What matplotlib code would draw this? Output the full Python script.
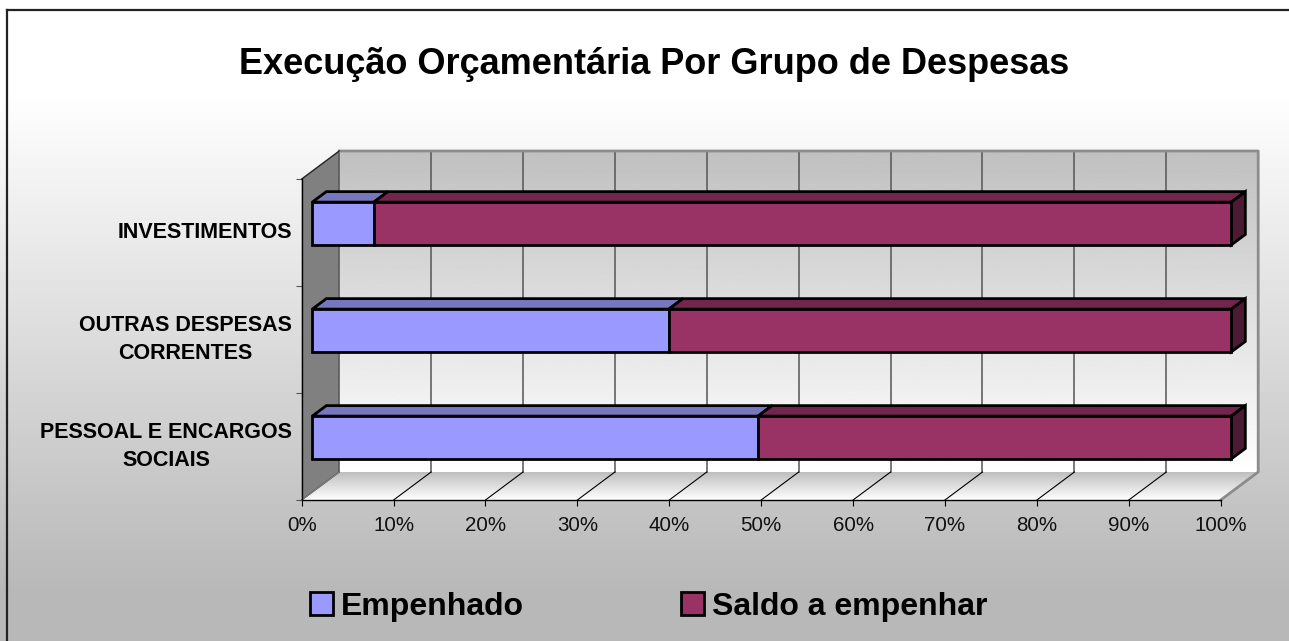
import numpy as np
import matplotlib
matplotlib.use("Agg")
import matplotlib.pyplot as plt
from matplotlib.patches import Polygon, Patch

categories = ["PESSOAL E ENCARGOS\nSOCIAIS", "OUTRAS DESPESAS\nCORRENTES", "INVESTIMENTOS"]
empenhado = [48.5, 38.8, 6.7]
saldo = [51.5, 61.2, 93.3]
x_ticks = [0, 10, 20, 30, 40, 50, 60, 70, 80, 90, 100]
series_names = ["Empenhado", "Saldo a empenhar"]

W, H = 1289, 641
plt.rcParams["font.family"] = ["Liberation Sans", "DejaVu Sans"]

# depth of the fake 3d box, in data units
DX = 37.5 * 100 / 919
DY = 28 * 3 / 321
BLUE, BLUE_TOP = "#9999ff", "#7777bf"
RED, RED_TOP, RED_SIDE = "#993366", "#73264d", "#4d1a33"


def at(x, y, d):
    return (x + d * DX, y + d * DY)


def px_axes(fig, x0, y0, x1, y1):
    # y measured from the top of the picture
    return fig.add_axes([x0 / W, 1 - y1 / H, (x1 - x0) / W, (y1 - y0) / H])


def gradient(ax, poly, top, bottom, zorder):
    # vertical grey gradient clipped to a polygon
    xs, ys = zip(*poly)
    grad = np.linspace(top, bottom, 256).reshape(-1, 1)
    im = ax.imshow(grad, cmap="gray", vmin=0, vmax=1, aspect="auto", zorder=zorder,
                   extent=[min(xs), max(xs), min(ys), max(ys)])
    # images stop at the axes box unless they get a bigger clip box
    im.set_clip_box(ax.figure.bbox)
    im.set_clip_path(Polygon(poly, transform=ax.transData))


fig = plt.figure(figsize=(W / 100, H / 100), dpi=100, facecolor="white")

# background of the whole chart: white at the top, flat grey under the plot
bg = fig.add_axes([0, 0, 1, 1], zorder=0)
shade = np.clip((np.arange(H) - 90) / 500, 0, 1)
bg.imshow((1 - shade * (1 - 0xb8 / 255)).reshape(-1, 1), cmap="gray", vmin=0, vmax=1,
          aspect="auto", extent=[0, W, H, 0])
bg.set_xlim(0, W)
bg.set_ylim(H, 0)
bg.axis("off")
bg.plot([6.5, 6.5], [H, 9.5], color="#222222", lw=1.6, clip_on=False)
bg.plot([6.5, W], [9.5, 9.5], color="#222222", lw=1.6, clip_on=False)

ax = px_axes(fig, 301.7, 179, 1220.7, 500)
ax.set_zorder(1)
ax.patch.set_visible(False)

# walls and floor
wall = [at(0, 0, 1), at(100, 0, 1), at(100, 3, 1), at(0, 3, 1)]
floor = [at(0, 0, 0), at(100, 0, 0), at(100, 0, 1), at(0, 0, 1)]
side = [at(0, 0, 0), at(0, 0, 1), at(0, 3, 1), at(0, 3, 0)]
gradient(ax, wall, 0xc0 / 255, 1, 1)
gradient(ax, floor, 0xbe / 255, 1, 1)
ax.add_patch(Polygon(side, facecolor="#808080", edgecolor="none", zorder=1, clip_on=False))

for t in x_ticks:
    ax.plot(*zip(at(t, 0, 1), at(t, 3, 1)), color="#555555", lw=1.1, zorder=2, clip_on=False)
    ax.plot(*zip(at(t, 0, 0), at(t, 0, 1)), color="black", lw=0.8, zorder=2, clip_on=False)
ax.plot(*zip(at(0, 3, 1), at(100, 3, 1), at(100, 0, 1), at(100, 0, 0)),
        color="#8c8c8c", lw=2, zorder=2, clip_on=False)
ax.plot(*zip(at(0, 3, 0), at(0, 3, 1)), color="#222222", lw=1, zorder=3, clip_on=False)
ax.plot(*zip(at(0, 0, 0), at(0, 0, 1)), color="#808080", lw=1, zorder=3, clip_on=False)

# bars: front faces are drawn by barh, top and side faces are polygons
D0, D1 = 0.283, 0.657
BAR_H = 0.40
y_pos = np.arange(len(categories)) + 0.5 + 0.01
shift_x, shift_y = at(0, 0, D0)
start = [shift_x] * len(categories)
ends = [shift_x + e for e in empenhado]
ax.barh(y_pos + shift_y, empenhado, BAR_H, left=start, color=BLUE, edgecolor="black",
        lw=2, zorder=5, clip_on=False)
ax.barh(y_pos + shift_y, saldo, BAR_H, left=ends, color=RED, edgecolor="black",
        lw=2, zorder=5, clip_on=False)
for y, e, s in zip(y_pos, empenhado, saldo):
    yt = y + BAR_H / 2
    yb = y - BAR_H / 2
    tops = [(0, e, BLUE_TOP), (e, e + s, RED_TOP)]
    for a, b, c in tops:
        ax.add_patch(Polygon([at(a, yt, D0), at(b, yt, D0), at(b, yt, D1), at(a, yt, D1)],
                             facecolor=c, edgecolor="black", lw=2, joinstyle="miter",
                             zorder=4, clip_on=False))
    ax.add_patch(Polygon([at(100, yb, D0), at(100, yt, D0), at(100, yt, D1), at(100, yb, D1)],
                         facecolor=RED_SIDE, edgecolor="black", lw=2, joinstyle="miter",
                         zorder=4, clip_on=False))

ax.set_xlim(0, 100)
ax.set_ylim(0, 3)
for s in ["top", "right"]:
    ax.spines[s].set_visible(False)
ax.spines["left"].set_linewidth(1)
ax.spines["bottom"].set_linewidth(1)
ax.spines["left"].set_zorder(3)
ax.spines["bottom"].set_zorder(3)

ax.set_xticks(x_ticks)
ax.set_xticklabels([f"{t}%" for t in x_ticks], fontsize=14.8, color="#111111")
ax.tick_params(axis="x", length=4.5, width=0.8, pad=7)
ax.set_yticks(range(4))
ax.set_yticklabels([])
ax.tick_params(axis="y", length=4.5, width=0.8, color="#555555")
ax.set_yticks(np.arange(len(categories)) + 0.5, minor=True)
ax.set_yticklabels(categories, minor=True, fontsize=15.5, fontweight="bold",
                   multialignment="center", linespacing=1.45)
ax.tick_params(axis="y", which="minor", length=0, pad=7)
for lab in ax.get_yticklabels(minor=True):
    lab.set_verticalalignment("center")

fig.text(654.5 / W, 1 - 65 / H, "Execução Orçamentária Por Grupo de Despesas", fontsize=26,
         fontweight="bold", ha="center", va="center", zorder=3)

handles = [Patch(facecolor=BLUE, edgecolor="black", lw=2),
           Patch(facecolor=RED, edgecolor="black", lw=2)]
fig.legend(handles, series_names, loc="center left", bbox_to_anchor=(310 / W, 1 - 607 / H),
           ncol=2, frameon=False, borderpad=0, borderaxespad=0,
           handlelength=0.72, handleheight=0.72, handletextpad=0.25, columnspacing=4.9,
           prop={"weight": "bold", "size": 23})

fig.savefig("out.png", dpi=100)
